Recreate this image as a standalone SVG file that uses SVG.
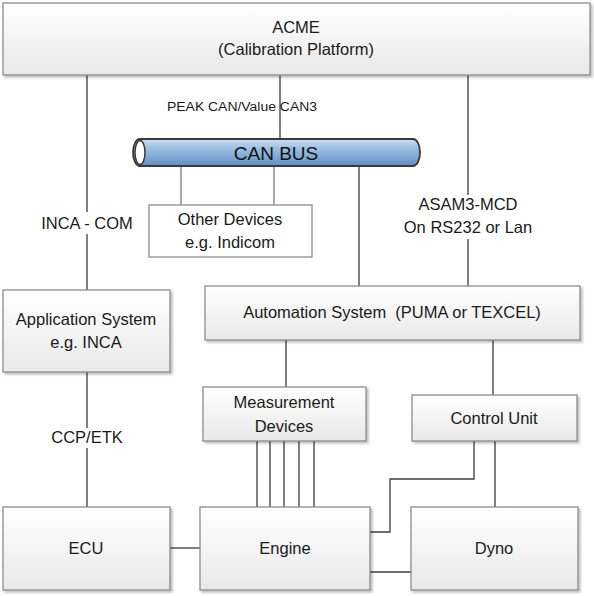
<svg xmlns="http://www.w3.org/2000/svg" width="594" height="596" viewBox="0 0 594 596">
<defs>
<linearGradient id="box" x1="0" y1="0" x2="0" y2="1">
<stop offset="0" stop-color="#ffffff"/>
<stop offset="1" stop-color="#e9e9e9"/>
</linearGradient>
<linearGradient id="bus" x1="0" y1="0" x2="0" y2="1">
<stop offset="0" stop-color="#cfe0f1"/>
<stop offset="0.35" stop-color="#9dbfe2"/>
<stop offset="1" stop-color="#5f8fc2"/>
</linearGradient>
<filter id="sh" x="-5%" y="-5%" width="115%" height="120%">
<feDropShadow dx="2" dy="2" stdDeviation="1.2" flood-color="#000" flood-opacity="0.25"/>
</filter>
</defs>
<style>
.b{fill:url(#box);stroke:#8c8c8c;stroke-width:1.3;filter:url(#sh)}
.w{fill:#ffffff;stroke:#8c8c8c;stroke-width:1.3}
.t{font-family:"Liberation Sans",Arial,sans-serif;font-size:16.5px;fill:#1a1a1a;text-anchor:middle}
.s{font-family:"Liberation Sans",Arial,sans-serif;font-size:12px;fill:#1a1a1a}
.c{stroke:#3a3a3a;stroke-width:1.3;fill:none}
.g{stroke:#7a7a7a;stroke-width:1.3;fill:none}
</style>
<rect width="594" height="596" fill="#ffffff"/>
<g id="connectors">
<line class="c" x1="87" y1="75" x2="87" y2="290"/>
<line class="c" x1="280" y1="75" x2="280" y2="139"/>
<line class="c" x1="468" y1="75" x2="468" y2="286"/>
<line class="g" x1="181" y1="166" x2="181" y2="205"/>
<line class="g" x1="274" y1="166" x2="274" y2="205"/>
<line class="c" x1="359" y1="166" x2="359" y2="286"/>
<line class="c" x1="286" y1="340" x2="286" y2="387"/>
<line class="c" x1="493" y1="340" x2="493" y2="395"/>
<line class="c" x1="87" y1="372" x2="87" y2="507"/>
<line class="c" x1="257" y1="441" x2="257" y2="507"/>
<line class="c" x1="270" y1="441" x2="270" y2="507"/>
<line class="c" x1="284" y1="441" x2="284" y2="507"/>
<line class="c" x1="299" y1="441" x2="299" y2="507"/>
<line class="c" x1="314" y1="441" x2="314" y2="507"/>
<line class="c" x1="170" y1="548" x2="200" y2="548"/>
<polyline class="c" points="370,532 390,532 390,479 474,479 474,441"/>
<line class="c" x1="495" y1="441" x2="495" y2="507"/>
<line class="c" x1="370" y1="572" x2="411" y2="572"/>
<rect x="38" y="212" width="98" height="22" fill="#ffffff"/>
<text class="t" x="87" y="229">INCA - COM</text>
<rect x="408" y="195" width="120" height="44" fill="#ffffff"/>
<text class="t" x="468" y="210">ASAM3-MCD</text>
<text class="t" x="468" y="233">On RS232 or Lan</text>
<rect x="46" y="428" width="82" height="20" fill="#ffffff"/>
<text class="t" x="87" y="443">CCP/ETK</text>
<text class="s" x="167" y="111" textLength="150" lengthAdjust="spacingAndGlyphs">PEAK CAN/Value CAN3</text>
</g>
<g id="acme">
<rect class="b" x="3" y="3" width="587" height="72"/>
<text class="t" x="296" y="33">ACME</text>
<text class="t" x="296" y="55">(Calibration Platform)</text>
</g>
<g id="canbus">
<path d="M140,139 H413 A7,13.5 0 0 1 413,166 H140 A7,13.5 0 0 1 140,139 Z" fill="url(#bus)" stroke="#3a3a3a" stroke-width="1.8"/>
<ellipse cx="140" cy="152.5" rx="5" ry="12" fill="#ffffff" stroke="#3a3a3a" stroke-width="1.5"/>
<text x="276" y="160" font-family="&quot;Liberation Sans&quot;,Arial,sans-serif" font-size="19" fill="#111" text-anchor="middle">CAN BUS</text>
</g>
<g id="other">
<rect class="w" x="149" y="205" width="163" height="52"/>
<text class="t" x="230" y="225">Other Devices</text>
<text class="t" x="230" y="248">e.g. Indicom</text>
</g>
<g id="appsys">
<rect class="b" x="3" y="290" width="167" height="82"/>
<text class="t" x="86" y="325">Application System</text>
<text class="t" x="86" y="348">e.g. INCA</text>
</g>
<g id="automation">
<rect class="b" x="205" y="286" width="375" height="54"/>
<text class="t" x="392" y="318" xml:space="preserve">Automation System  (PUMA or TEXCEL)</text>
</g>
<g id="measurement">
<rect class="b" x="203" y="387" width="163" height="54"/>
<text class="t" x="284" y="408">Measurement</text>
<text class="t" x="284" y="432">Devices</text>
</g>
<g id="control">
<rect class="b" x="412" y="395" width="165" height="46"/>
<text class="t" x="494" y="424">Control Unit</text>
</g>
<g id="ecu">
<rect class="b" x="3" y="507" width="167" height="83"/>
<text class="t" x="86" y="554">ECU</text>
</g>
<g id="engine">
<rect class="b" x="200" y="507" width="170" height="83"/>
<text class="t" x="285" y="554">Engine</text>
</g>
<g id="dyno">
<rect class="b" x="411" y="507" width="167" height="83"/>
<text class="t" x="494" y="554">Dyno</text>
</g>
</svg>
